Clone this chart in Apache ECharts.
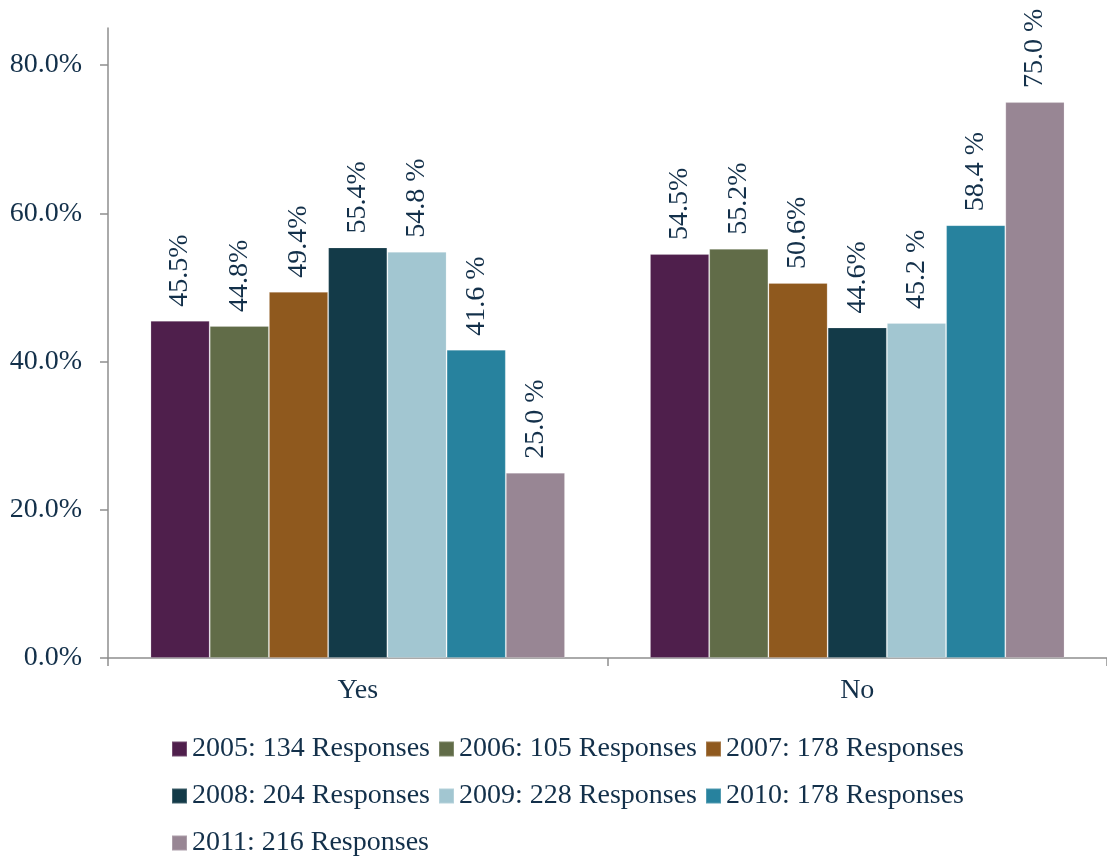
<!DOCTYPE html>
<html>
<head>
<meta charset="utf-8">
<script src="https://cdn.jsdelivr.net/npm/echarts@6/dist/echarts.min.js"></script>
<style>html,body{margin:0;padding:0;background:#fff}#c{width:1107px;height:858px}</style>
</head>
<body>
<div id="c"></div>
<script>
const categories = ['Yes', 'No'];
const seriesNames = ['2005: 134 Responses', '2006: 105 Responses', '2007: 178 Responses', '2008: 204 Responses', '2009: 228 Responses', '2010: 178 Responses', '2011: 216 Responses'];
const s2005 = [45.5, 54.5];
const s2006 = [44.8, 55.2];
const s2007 = [49.4, 50.6];
const s2008 = [55.4, 44.6];
const s2009 = [54.8, 45.2];
const s2010 = [41.6, 58.4];
const s2011 = [25.0, 75.0];
const labelSuffix = ['%', '%', '%', '%', ' %', ' %', ' %'];
const colors = ['#4F1F4C', '#616C48', '#8F591E', '#133A48', '#A2C6D1', '#27829E', '#988694'];
const yTicks = [0, 20, 40, 60, 80];

const values = [s2005, s2006, s2007, s2008, s2009, s2010, s2011];
const FONT = 'Liberation Serif';
const TXT = '#13304A';
const FS = 28;

const chart = echarts.init(document.getElementById('c'));
const series = values.map((v, i) => ({
  name: seriesNames[i],
  type: 'bar',
  data: v,
  barGap: '0%',
  barCategoryGap: '17%',
  itemStyle: { color: colors[i], borderColor: 'rgba(255,255,255,0.2)', borderWidth: 1 },
  label: {
    show: true,
    position: 'top',
    rotate: 90,
    align: 'left',
    verticalAlign: 'middle',
    distance: 14,
    fontFamily: FONT,
    fontSize: FS,
    color: TXT,
    formatter: p => p.value.toFixed(1) + labelSuffix[i]
  }
}));

const legendBase = {
  left: 166,
  orient: 'horizontal',
  itemWidth: 15,
  itemHeight: 15,
  itemGap: 8,
  icon: 'rect',
  textStyle: { fontFamily: FONT, fontSize: FS, color: TXT, lineHeight: 30 }
};

chart.setOption({
  animation: false,
  color: colors,
  grid: { left: 108, right: 0, top: 28, bottom: 200, containLabel: false },
  legend: [
    Object.assign({}, legendBase, { top: 729, data: seriesNames.slice(0, 3) }),
    Object.assign({}, legendBase, { top: 776, data: seriesNames.slice(3, 6) }),
    Object.assign({}, legendBase, { top: 823, data: seriesNames.slice(6) })
  ],
  xAxis: {
    type: 'category',
    data: categories,
    axisLine: { lineStyle: { color: '#8E8E8E', width: 1.5 } },
    axisTick: { show: true, length: 8, lineStyle: { color: '#8E8E8E', width: 1.5 } },
    axisLabel: { fontFamily: FONT, fontSize: FS, color: TXT, margin: 19 }
  },
  yAxis: {
    type: 'value',
    min: 0,
    max: 85,
    interval: 20,
    splitLine: { show: false },
    axisLine: { show: true, lineStyle: { color: '#8E8E8E', width: 1.5 } },
    axisTick: { show: true, length: 8, customValues: yTicks, lineStyle: { color: '#8E8E8E', width: 1.5 } },
    axisLabel: {
      fontFamily: FONT, fontSize: FS, color: TXT, margin: 26,
      customValues: yTicks,
      formatter: v => v.toFixed(1) + '%'
    }
  },
  series: series
});
</script>
</body>
</html>
